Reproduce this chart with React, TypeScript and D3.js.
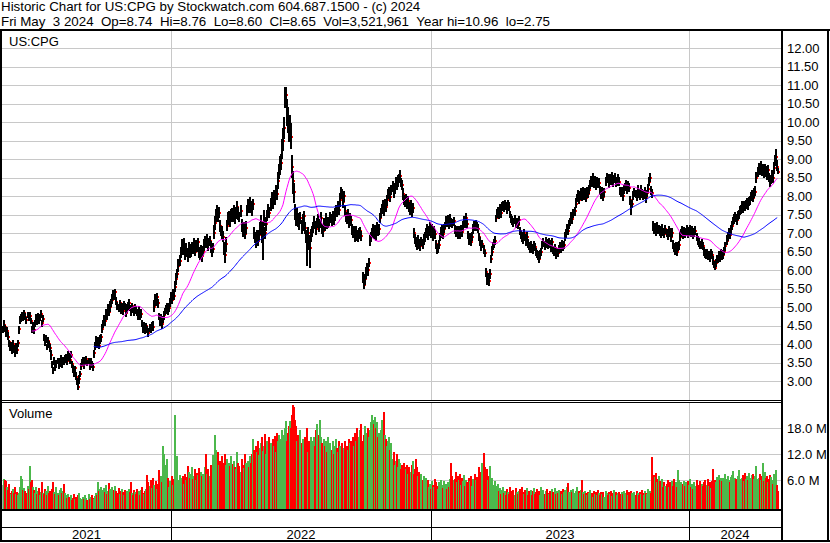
import React from "react";
import * as d3 from "d3";

// Daily closes in cents (May 2021 - May 3 2024)
const closes: number[] = [
  440,452,445,428,436,418,405,392,398,385,400,388,378,395,383,402,440,462,470,
  478,470,485,472,465,480,468,475,462,440,448,438,455,470,462,478,465,472,480,458,468,
  420,405,412,395,408,400,388,370,345,330,352,338,348,355,340,350,362,345,358,352,
  360,368,355,372,365,358,370,345,330,322,335,312,300,285,305,320,
  340,348,355,345,352,360,348,355,342,350,345,338,375,392,410,398,405,395,412,420,
  440,455,470,462,485,478,495,488,500,510,520,535,528,540,515,
  505,498,510,495,502,490,508,500,485,495,505,512,498,490,502,495,488,500,492,
  485,478,490,475,482,455,442,450,435,448,440,430,445,438,452,446,
  500,522,515,528,510,475,460,470,455,468,478,488,495,502,490,498,515,528,520,535,530,
  555,575,590,610,625,648,665,655,670,640,655,648,635,660,645,652,
  665,658,672,650,668,660,675,648,640,655,638,650,668,680,672,685,670,678,662,650,658,
  700,728,745,760,748,755,718,705,700,690,660,640,670,720,738,745,732,748,
  755,748,762,740,758,770,752,745,760,720,705,712,698,715,760,775,768,782,770,765,778,
  700,688,675,690,680,695,710,730,690,715,740,700,725,748,760,755,
  778,790,785,800,795,810,805,840,865,880,890,925,950,985,1060,1075,1030,1000,975,990,960,
  880,840,810,760,740,750,735,728,740,720,735,745,715,690,672,700,680,660,695,705,
  715,730,722,710,728,735,718,725,740,712,705,730,720,738,725,728,730,742,735,748,738,
  750,765,758,770,762,790,810,805,785,800,760,745,738,750,728,740,735,
  710,698,705,690,702,695,688,700,705,692,580,560,575,590,605,600,620,680,690,
  700,712,698,708,695,715,705,710,740,755,765,772,760,778,770,
  790,805,812,798,815,825,810,820,835,828,840,848,855,838,830,805,790,782,795,778,788,
  770,762,775,760,768,700,685,675,668,680,672,665,678,670,682,690,
  700,712,695,705,718,700,710,692,705,698,670,655,660,668,690,702,710,698,712,
  720,735,728,740,722,738,730,725,732,712,700,708,695,705,698,710,702,
  720,735,728,740,725,695,680,688,675,690,710,722,715,725,718,712,
  690,675,665,670,655,645,595,575,580,570,590,630,650,665,672,680,
  740,752,760,748,765,755,770,775,768,780,772,765,778,770,
  750,740,735,728,738,725,730,722,735,705,695,690,682,700,688,678,690,
  672,665,658,668,660,655,670,662,650,645,638,630,642,650,
  668,675,665,680,672,668,678,670,660,675,655,648,660,642,650,645,658,665,658,670,662,668,
  690,700,712,705,722,730,745,738,752,760,780,795,805,790,800,
  810,798,815,802,808,795,812,805,818,830,842,838,850,835,845,828,840,832,836,
  815,805,812,798,810,840,852,845,835,848,842,855,838,846,850,835,842,848,838,
  815,808,812,800,818,825,832,820,828,822,790,770,780,
  800,812,805,798,815,808,802,818,810,800,805,812,795,808,820,838,850,815,808,
  720,708,715,702,718,710,712,705,700,712,705,698,710,700,695,708,702,690,700,
  670,660,655,665,650,662,668,690,700,708,695,705,698,
  702,710,698,705,712,700,708,695,702,706,690,680,675,670,668,672,665,
  650,645,640,648,638,642,635,645,640,625,615,605,620,630,632,640,635,645,638,642,650,
  665,680,690,700,695,710,720,732,738,745,740,735,748,752,
  760,765,772,768,775,770,778,782,775,785,790,798,805,795,808,812,
  850,865,875,870,878,868,872,860,872,865,858,870,850,840,845,855,848,875,895,905,880,865,
];

// Distance of each day's high above the close, cents
const hiOff: number[] = [
  8,12,6,10,9,14,7,11,8,6,12,9,10,7,13,8,9,15,12,8,10,7,11,9,6,10,12,8,9,11,
  7,10,12,8,6,11,9,13,8,10,7,9,12,6,10,8,11,14,9,7,12,8,10,6,9,11,7,13,8,10,
  9,6,11,8,12,7,10,9,13,8,6,11,9,12,10,7,8,11,9,6,12,8,10,7,9,11,8,12,10,14,
  11,9,13,10,12,8,14,11,9,15,10,13,12,9,16,11,14,10,12,9,13,8,11,10,12,9,14,8,11,10,
  12,9,11,8,13,10,9,12,8,11,10,9,13,8,12,10,11,9,12,8,10,13,9,11,8,16,20,12,14,10,
  12,9,11,10,13,8,12,10,11,9,14,12,10,13,11,15,12,16,18,14,20,17,15,18,13,16,14,19,12,15,
  16,13,18,12,15,14,17,13,16,12,15,18,13,16,14,17,12,15,13,18,14,16,12,15,22,18,20,16,19,15,
  17,14,18,15,16,22,19,15,18,14,17,16,13,18,15,17,14,16,19,13,15,17,14,18,16,19,15,17,13,16,
  18,15,14,17,16,13,18,15,14,20,18,16,15,22,17,19,15,18,16,17,20,15,18,16,19,17,25,22,28,24,
  30,35,28,36,20,32,40,35,30,38,32,28,25,20,22,18,20,16,18,15,17,14,16,18,15,17,14,16,15,13,
  14,16,12,15,13,17,14,12,16,13,15,12,14,17,13,15,12,14,16,13,15,17,12,14,16,13,18,15,14,16,
  13,15,12,14,16,13,15,12,14,13,15,12,16,14,13,15,12,14,16,13,15,18,14,16,13,15,12,14,13,16,
  14,12,15,13,16,14,12,15,17,13,14,16,12,15,13,17,14,16,12,15,18,14,16,13,15,12,14,16,13,15,
  12,14,13,15,12,14,16,13,15,12,14,13,15,12,14,11,13,15,12,14,13,12,15,11,13,14,12,15,13,11,
  12,10,13,11,14,12,10,13,11,12,14,10,12,13,11,14,12,10,13,11,12,14,10,12,11,13,10,12,14,11,
  12,10,13,11,12,14,10,12,11,13,12,10,14,11,12,13,10,12,15,11,13,12,10,14,12,11,13,10,12,11,
  12,14,10,13,11,12,10,13,11,12,14,10,12,11,13,10,12,11,14,10,12,11,13,10,12,11,10,12,13,11,
  10,12,11,13,10,12,11,10,13,11,12,10,12,11,13,10,12,11,10,12,13,11,10,12,11,13,10,12,11,10,
  12,11,13,10,12,11,14,12,13,11,12,14,13,12,15,12,13,11,14,12,13,11,12,14,11,13,12,11,13,12,
  11,13,12,10,14,12,11,13,12,10,12,11,13,12,10,14,11,12,13,10,12,11,13,12,10,12,14,11,12,13,
  11,12,10,13,11,12,14,11,12,10,13,11,12,10,14,11,12,13,10,12,11,13,12,10,14,15,12,13,11,12,
  10,12,13,11,12,10,13,11,12,10,11,13,10,12,11,12,10,13,11,12,10,12,11,13,10,12,11,10,12,11,
  12,11,13,10,12,11,10,12,13,11,12,10,11,13,10,12,11,10,12,11,13,10,12,11,10,12,11,13,10,12,
  11,12,10,13,11,12,10,12,13,11,14,12,13,11,12,14,12,13,11,12,14,12,11,13,12,14,11,12,13,12,
  13,12,14,11,13,12,14,13,15,16,14,15,13,16,14,15,13,14,16,13,15,14,16,13,15,14,18,16,22,17,
  11,
];

// Distance of each day's low below the close, cents
const loOff: number[] = [
  10,8,12,9,11,7,13,10,8,12,9,11,14,8,10,9,12,8,11,10,9,13,8,11,10,7,12,9,10,8,
  12,9,10,11,8,12,10,9,13,8,11,10,9,12,8,11,9,13,10,12,9,11,14,10,8,12,9,11,10,9,
  11,9,12,8,10,13,9,11,8,12,10,9,11,10,12,9,11,8,10,12,9,11,8,10,13,9,11,10,12,9,
  12,10,13,9,11,14,10,12,11,13,10,12,9,11,13,10,12,11,9,13,10,12,11,9,13,10,12,11,9,12,
  10,12,11,9,13,10,12,11,9,12,10,13,11,9,12,10,11,13,9,12,10,11,13,9,12,10,14,11,12,10,
  13,11,12,10,14,11,12,10,13,11,12,10,14,12,11,13,12,15,14,12,16,13,15,12,14,16,13,15,12,14,
  15,13,16,12,14,17,13,15,12,16,14,13,17,15,12,16,14,13,15,17,12,16,14,13,15,20,16,14,17,15,
  16,14,17,15,18,20,22,15,17,14,16,18,15,17,14,16,19,15,17,14,16,18,15,17,14,16,15,18,14,17,
  16,18,15,17,14,16,18,15,17,16,25,18,87,20,17,19,16,18,15,17,16,19,15,18,17,16,20,18,22,20,
  25,28,30,22,35,40,30,28,35,32,30,35,28,25,20,22,18,20,16,22,30,25,18,18,62,20,25,55,18,15,
  14,16,12,15,13,17,14,12,16,13,15,12,14,17,13,15,12,14,16,13,15,17,12,14,16,13,18,15,14,16,
  15,13,16,12,14,15,13,16,14,12,15,13,14,16,12,15,13,14,16,12,15,13,14,16,12,15,13,14,12,15,
  13,15,12,14,16,13,15,12,14,13,15,12,16,14,13,15,12,14,16,13,15,12,14,13,16,12,14,15,13,12,
  14,12,15,13,12,14,16,13,12,15,13,14,12,15,13,12,14,13,15,12,14,13,12,15,13,12,14,13,15,12,
  11,13,12,10,14,11,13,12,10,13,11,14,12,10,13,11,12,14,10,13,12,11,13,10,12,14,11,13,10,12,
  12,11,13,10,12,11,14,10,12,13,11,12,10,13,11,12,10,14,15,11,12,13,10,12,11,13,12,10,11,13,
  11,12,13,10,12,11,14,10,12,13,11,10,12,14,11,13,10,12,11,13,10,12,14,11,12,10,13,11,12,10,
  12,10,13,11,12,10,11,13,10,12,11,13,10,12,11,10,13,12,11,10,12,13,11,10,12,11,13,10,12,11,
  11,13,10,12,11,13,12,10,12,11,13,12,10,13,12,11,14,12,11,13,12,10,13,11,12,14,11,12,10,13,
  12,10,13,11,12,14,10,12,11,13,10,12,11,13,12,10,12,14,11,12,13,10,12,11,14,12,11,13,10,12,
  13,11,12,10,14,12,11,15,20,12,11,13,10,12,11,13,12,10,14,11,12,10,13,11,12,10,13,11,12,14,
  11,12,10,13,12,11,14,12,10,13,11,12,10,13,11,12,14,10,12,11,13,10,12,11,14,12,10,13,11,12,
  12,10,13,11,12,14,10,12,11,13,12,10,11,13,12,10,14,11,12,13,10,12,11,13,12,14,11,12,10,5,
  12,11,13,10,12,14,11,12,10,13,11,12,14,11,13,12,10,13,12,11,14,12,13,11,12,10,13,12,11,14,
  13,12,11,14,12,13,11,14,12,15,13,14,12,16,13,14,12,15,13,14,12,13,15,12,14,13,16,14,15,13,
  5,
];

// Daily volume, in 100,000 shares
const volumes: number[] = [
  50,62,60,58,45,38,52,30,28,35,40,30,45,28,33,25,30,45,70,62,38,42,35,30,48,40,94,55,60,45,
  38,30,45,28,35,42,25,32,55,30,28,40,35,25,48,30,36,22,40,55,32,28,45,30,25,38,42,30,35,52,
  30,25,20,28,22,18,25,15,20,28,16,22,18,25,30,20,14,18,22,16,25,20,15,28,18,22,26,20,17,24,
  30,25,57,35,40,45,30,38,42,33,50,28,36,53,40,30,45,32,38,48,35,30,42,28,36,40,33,25,38,30,
  35,28,40,32,55,30,26,38,34,28,40,30,35,25,38,45,30,28,36,40,72,55,48,60,42,65,50,45,58,40,
  52,83,60,70,55,140,120,95,72,110,65,45,58,40,70,50,62,210,55,117,60,72,58,65,70,52,75,60,68,93,
  80,65,75,90,62,70,85,60,78,72,88,66,80,70,75,68,90,120,74,85,70,95,80,118,100,165,130,110,125,95,
  105,90,115,100,85,120,95,110,88,100,92,115,80,98,105,90,85,125,100,92,80,110,95,88,120,100,85,105,90,115,
  100,120,155,130,110,140,125,150,118,135,145,160,128,140,166,120,150,135,160,145,130,155,140,162,125,170,150,165,140,155,
  175,165,160,180,196,150,170,185,196,180,210,234,230,200,185,150,165,120,175,145,155,130,160,140,180,125,150,135,160,140,
  150,160,140,175,190,140,165,200,160,145,130,155,140,150,125,160,135,145,130,150,120,140,155,135,125,150,140,130,145,120,
  135,150,125,140,130,155,145,150,130,160,140,170,150,180,145,160,175,190,150,165,185,155,170,180,160,175,195,210,200,190,
  205,180,195,160,170,150,175,200,185,217,165,155,140,150,160,130,145,110,125,95,105,120,90,110,100,85,95,80,100,90,
  85,95,75,90,70,80,95,105,75,85,110,90,70,80,65,75,60,70,55,65,48,60,45,52,40,58,50,44,62,55,
  48,40,55,45,60,50,42,58,47,52,40,56,45,62,100,70,60,62,80,55,70,60,75,50,65,58,72,48,60,55,
  52,65,58,70,48,62,55,75,60,68,50,90,70,80,100,124,90,75,85,60,70,94,55,65,50,42,58,48,40,52,
  35,42,28,38,45,30,36,25,40,32,28,44,35,30,38,26,42,33,29,36,40,30,45,34,28,38,32,42,27,35,
  30,38,25,35,42,28,33,40,30,36,26,44,32,38,29,35,41,30,28,36,25,39,33,30,42,28,35,30,38,32,
  36,28,40,32,38,30,45,54,34,28,38,32,40,30,36,44,28,35,30,38,60,32,28,36,30,26,34,30,38,25,
  30,22,35,28,32,25,38,30,26,34,28,32,22,36,30,25,33,28,35,24,30,38,27,32,25,30,34,28,22,32,
  28,35,25,30,38,26,32,28,35,30,24,33,27,36,30,25,32,28,38,30,26,35,30,28,40,32,36,30,114,60,
  72,68,76,55,62,70,58,50,64,45,55,48,52,60,45,55,50,58,48,62,48,55,45,83,60,48,55,45,52,58,
  48,55,42,58,50,62,45,52,40,55,48,60,45,50,58,42,52,48,55,60,45,50,62,48,55,42,58,86,50,60,
  55,68,50,72,60,66,58,65,52,75,62,70,60,55,68,72,82,58,65,62,58,70,84,62,60,66,72,58,76,64,
  70,60,78,65,55,72,75,62,70,94,64,66,75,60,70,100,58,80,65,70,55,62,73,68,60,52,75,58,83,50,
  35,
];

const priceTicks = [3, 3.5, 4, 4.5, 5, 5.5, 6, 6.5, 7, 7.5, 8, 8.5, 9, 9.5, 10, 10.5, 11, 11.5, 12];
const volumeTicks = [6, 12, 18];
const yearLabels = ["2021", "2022", "2023", "2024"];
const yearStartIdx = [164, 415, 665];
const maPeriods = [30, 90];
const maColors = ["#ff00ff", "#0000ff"];
const symbol = "US:CPG";
const headerLine1 = "Historic Chart for US:CPG by Stockwatch.com 604.687.1500 - (c) 2024";
const headerLine2 = "Fri May  3 2024  Op=8.74  Hi=8.76  Lo=8.60  Cl=8.65  Vol=3,521,961  Year hi=10.96  lo=2.75";

const FONT = "'Liberation Sans', Arial, Helvetica, sans-serif";
const keepSpaces = (s: string) => s.replace(/ /g, "\u00a0");

export default function App() {
  const W = 830, H = 543;
  const plotL = 2, plotR = 781;
  const priceTop = 31, priceBottom = 400;
  const volTop = 403, volBottom = 509;
  const n = closes.length;

  const x = d3.scaleLinear().domain([0, n - 1]).range([1.7, 777.2]);
  const yP = d3.scaleLinear().domain([3, 12]).range([381, 48.3]);
  const yV = d3.scaleLinear().domain([6, 18]).range([480.3, 428.3]);

  const sma = (p: number) =>
    closes.map((_, i) => {
      if (i < p - 1) return null;
      let s = 0;
      for (let k = i - p + 1; k <= i; k++) s += closes[k];
      return s / p / 100;
    });

  const lineGen = d3
    .line<number | null>()
    .defined((d) => d != null)
    .x((_, i) => x(i))
    .y((d) => yP(d as number));

  const px = (i: number) => Math.round(x(i));
  const yearX = yearStartIdx.map((idx) => Math.round(x(idx) - 0.3));
  const bounds = [plotL, ...yearX, plotR];

  const priceEls: React.ReactNode[] = [];
  for (let i = 0; i < n; i++) {
    const c = closes[i] / 100;
    const hi = (closes[i] + (hiOff[i] ?? 10)) / 100;
    const lo = (closes[i] - (loOff[i] ?? 10)) / 100;
    const yh = Math.round(yP(hi));
    const yl = Math.round(yP(lo));
    priceEls.push(
      <rect key={"b" + i} x={px(i)} y={yh} width={2} height={Math.max(1, yl - yh)} fill="#000" />
    );
    priceEls.push(
      <rect key={"c" + i} x={px(i) + 2} y={Math.round(yP(c)) - 1} width={1} height={2} fill="#ff0000" />
    );
  }

  const volEls = volumes.map((v, i) => {
    const prev = i > 0 ? closes[i - 1] : closes[i];
    const col = closes[i] > prev ? "#4cb84c" : closes[i] < prev ? "#ff0000" : "#a8a8a8";
    const yy = Math.round(yV(v / 10));
    return <rect key={"v" + i} x={px(i)} y={yy} width={2} height={volBottom - yy} fill={col} />;
  });

  const grid = "#c8c8c8";

  return (
    <svg
      width={W}
      height={H}
      viewBox={`0 0 ${W} ${H}`}
      style={{ position: "fixed", left: 0, top: 0, display: "block", background: "#fff" }}
      fontFamily={FONT}
    >
      <rect x={0} y={0} width={W} height={H} fill="#fff" />
      <text x={1} y={11} fontSize={13.33} fill="#000">{keepSpaces(headerLine1)}</text>
      <text x={1} y={26} fontSize={13.33} fill="#000">{keepSpaces(headerLine2)}</text>

      {/* price grid */}
      <g shapeRendering="crispEdges">
        {priceTicks.map((t) => (
          <line key={"pg" + t} x1={plotL} x2={plotR} y1={Math.round(yP(t)) + 0.5} y2={Math.round(yP(t)) + 0.5} stroke={grid} />
        ))}
        {yearX.map((xx, k) => (
          <line key={"pv" + k} x1={xx + 0.5} x2={xx + 0.5} y1={priceTop} y2={priceBottom} stroke={grid} />
        ))}
        {volumeTicks.map((t) => (
          <line key={"vg" + t} x1={plotL} x2={plotR} y1={Math.round(yV(t)) + 0.5} y2={Math.round(yV(t)) + 0.5} stroke={grid} />
        ))}
        {yearX.map((xx, k) => (
          <line key={"vv" + k} x1={xx + 0.5} x2={xx + 0.5} y1={volTop} y2={volBottom} stroke={grid} />
        ))}
      </g>

      <text x={9} y={46} fontSize={13} fill="#000">{symbol}</text>
      <text x={9} y={418} fontSize={13} fill="#000">Volume</text>

      <g shapeRendering="crispEdges">{priceEls}</g>
      <g>
        {maPeriods.map((p, k) => (
          <path key={"ma" + p} d={lineGen(sma(p)) || ""} fill="none" stroke={maColors[k]} strokeWidth={1} />
        ))}
      </g>
      <g shapeRendering="crispEdges">{volEls}</g>

      {/* right axis labels */}
      {priceTicks.map((t) => (
        <text key={"pl" + t} x={787} y={yP(t) + 4.6} fontSize={13} fill="#000">{t.toFixed(2)}</text>
      ))}
      {volumeTicks.map((t) => (
        <text key={"vl" + t} x={787} y={yV(t) + 4.6} fontSize={13} fill="#000">{t.toFixed(1) + " M"}</text>
      ))}

      {/* year labels */}
      {yearLabels.map((lab, k) => (
        <text key={"yl" + lab} x={(bounds[k] + bounds[k + 1]) / 2} y={539} fontSize={13} textAnchor="middle" fill="#000">{lab}</text>
      ))}

      {/* frame */}
      <g shapeRendering="crispEdges" fill="#000">
        <rect x={0} y={29} width={W} height={2} />
        <rect x={0} y={29} width={2} height={513} />
        <rect x={781} y={29} width={2} height={513} />
        <rect x={827} y={29} width={2} height={513} />
        <rect x={2} y={400} width={779} height={1} />
        <rect x={2} y={402} width={779} height={1} />
        <rect x={0} y={509} width={783} height={2} />
        <rect x={0} y={527} width={783} height={1} />
        <rect x={0} y={540} width={W} height={2} />
        {yearX.map((xx, k) => (
          <rect key={"yb" + k} x={xx} y={511} width={1} height={29} />
        ))}
      </g>
    </svg>
  );
}
